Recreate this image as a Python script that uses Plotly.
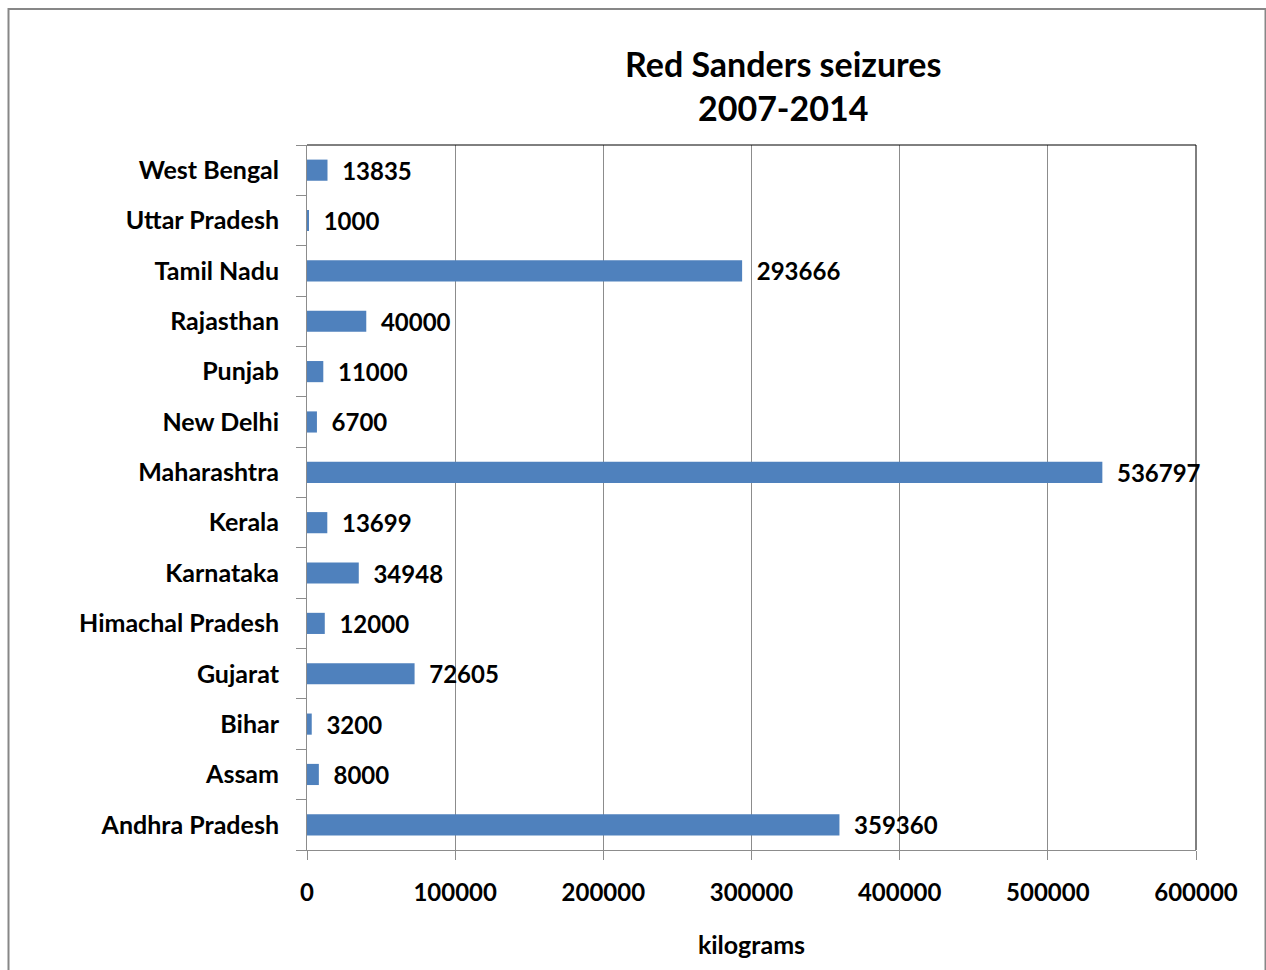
import plotly.graph_objects as go

states = ["Andhra Pradesh", "Assam", "Bihar", "Gujarat", "Himachal Pradesh", "Karnataka",
          "Kerala", "Maharashtra", "New Delhi", "Punjab", "Rajasthan", "Tamil Nadu",
          "Uttar Pradesh", "West Bengal"]
seized_kg = [359360, 8000, 3200, 72605, 12000, 34948, 13699, 536797, 6700, 11000,
             40000, 293666, 1000, 13835]
x_ticks = [0, 100000, 200000, 300000, 400000, 500000, 600000]

FONT = "Lato"
W, H = 1266, 970
L, R, T, B = 307, 70, 145, 120
pw, ph = W - L - R, H - T - B

def px_x(p):
    return (p - L) / pw

def px_y(p):
    return (H - B - p) / ph

fig = go.Figure()
fig.add_trace(go.Bar(
    y=states, x=seized_kg, orientation="h",
    marker=dict(color="#4F81BD", line=dict(width=0)),
    width=0.42,
    text=["  " + str(v) for v in seized_kg],
    textposition="outside", cliponaxis=False, constraintext="none",
    textfont=dict(family=FONT, size=24, color="#000000", weight="bold"),
    hoverinfo="x+y",
))

fig.update_layout(
    width=W, height=H,
    margin=dict(l=L, r=R, t=T, b=B),
    paper_bgcolor="white", plot_bgcolor="white",
    showlegend=False,
    font=dict(family=FONT, color="#000000"),
    xaxis=dict(
        range=[0, 600000], tickvals=x_ticks, ticktext=[str(v) for v in x_ticks],
        showgrid=True, gridcolor="#8C8C8C", gridwidth=1,
        showline=True, linecolor="#8C8C8C", linewidth=1,
        ticks="outside", ticklen=9, tickcolor="#8C8C8C",
        tickfont=dict(family=FONT, size=24, color="#000000", weight="bold"),
        ticklabelstandoff=12, zeroline=False,
        title=dict(text="kilograms", font=dict(family=FONT, size=25, weight="bold"), standoff=31),
    ),
    yaxis=dict(
        type="category", categoryorder="array", categoryarray=states,
        showgrid=False, showline=True, linecolor="#8C8C8C", linewidth=1,
        ticks="outside", ticklen=10, tickcolor="#8C8C8C", tickson="boundaries",
        tickfont=dict(family=FONT, size=25, color="#000000", weight="bold"),
        ticklabelstandoff=22,
    ),
    bargap=0.58,
)

# plot area top and right borders (black)
fig.add_shape(type="line", xref="paper", yref="paper", x0=0, x1=1, y0=1, y1=1,
              line=dict(color="#000000", width=1))
fig.add_shape(type="line", xref="paper", yref="paper", x0=1, x1=1, y0=0, y1=1,
              line=dict(color="#000000", width=1))
# outer chart frame
fig.add_shape(type="rect", xref="paper", yref="paper",
              x0=px_x(8.5), x1=px_x(1265.5), y0=px_y(990), y1=px_y(9),
              line=dict(color="#878787", width=2), layer="below")

fig.add_annotation(text="<b>Red Sanders seizures<br>2007-2014</b>", xref="paper", yref="paper",
                   x=px_x(783), y=px_y(85), xanchor="center", yanchor="middle", showarrow=False,
                   font=dict(family=FONT, size=34, color="#000000"), align="center")

fig.write_html("out.html")
